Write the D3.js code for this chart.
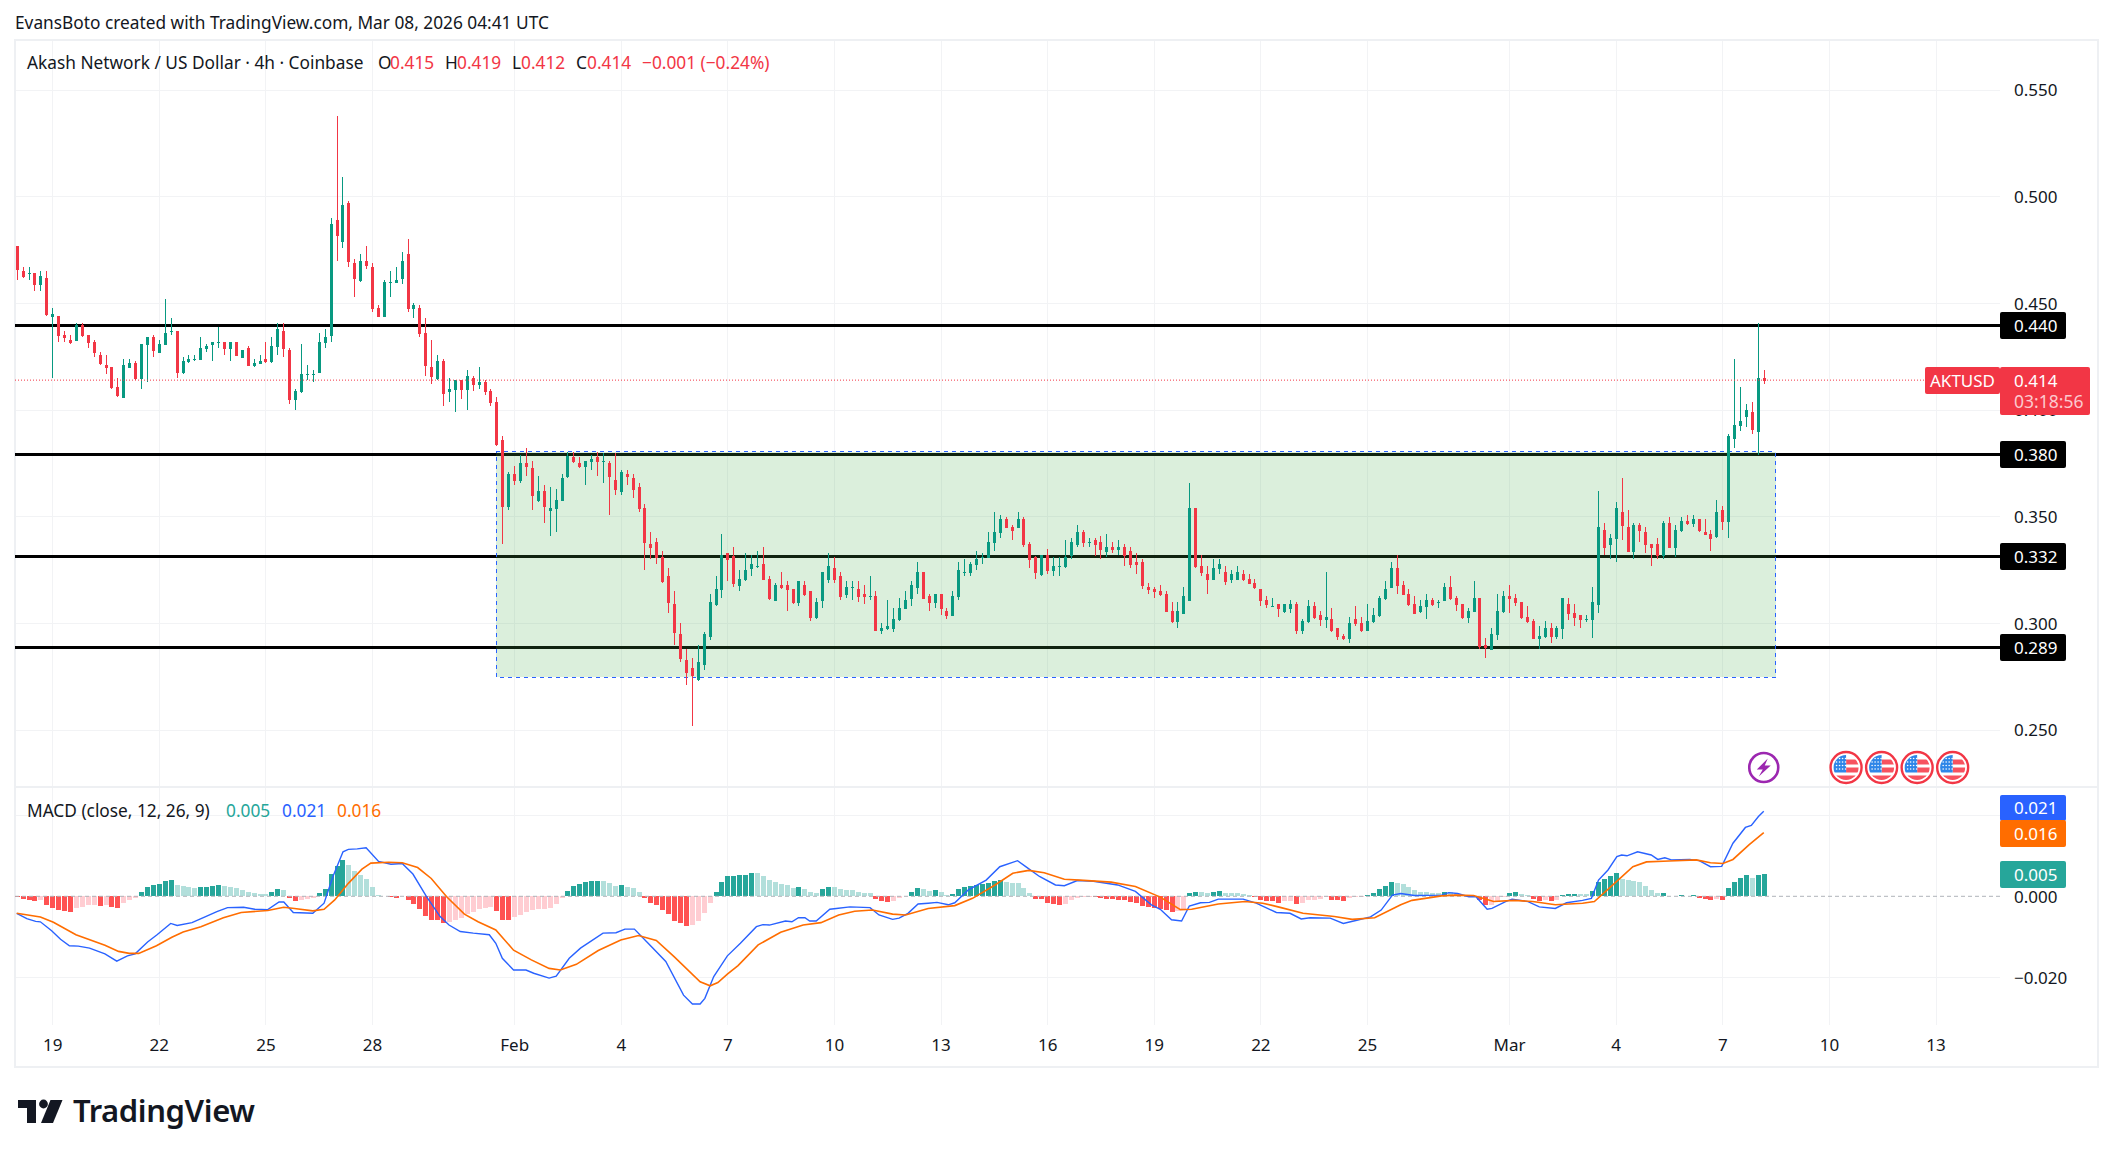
<!DOCTYPE html>
<html>
<head>
<meta charset="utf-8">
<script src="https://cdn.jsdelivr.net/npm/d3@7"></script>
<style>
  html, body { margin: 0; background: #fff; }
  text { font-family: "Noto Sans", sans-serif; fill: #131722; }
</style>
</head>
<body>
<div id="chart"></div>
<script>
// 4h candles, first one is Jan 18 00:00 UTC
const startTime = Date.UTC(2026, 0, 18);
const fourHours = 4 * 3600 * 1000;

const opens = [
  .4769,.4652,.4638,.4642,.4586,.4619,.4436,.4441,.4352,.4328,
  .4324,.4399,.4352,.4319,.4258,.4211,.4202,.4108,.4056,.4197,
  .4221,.4146,.4305,.4342,.4267,.4305,.4366,.4371,.4174,.4225,
  .4235,.4235,.4286,.4305,.4314,.4319,.4286,.4319,.4244,.4291,
  .4206,.4216,.4239,.4225,.4295,.4370,.4281,.4047,.4084,.4164,
  .4164,.4173,.4314,.4347,.4890,.4787,.4970,.4689,.4605,.4698,
  .4670,.4478,.4436,.4595,.4595,.4614,.4731,.4473,.4478,.4361,
  .4201,.4145,.4230,.4084,.4094,.4140,.4094,.4150,.4117,.4131,
  .4089,.4037,.3859,.3545,.3700,.3667,.3751,.3728,.3573,.3620,
  .3526,.3536,.3573,.3686,.3780,.3751,.3733,.3756,.3780,.3756,
  .3751,.3672,.3615,.3700,.3681,.3639,.3541,.3372,.3381,.3311,
  .3222,.3091,.2950,.2828,.2791,.2734,.2805,.2936,.3086,.3156,
  .3330,.3315,.3175,.3203,.3255,.3264,.3278,.3208,.3105,.3180,
  .3180,.3161,.3095,.3180,.3151,.3025,.3105,.3203,.3259,.3222,
  .3133,.3166,.3161,.3137,.3123,.3128,.2964,.2973,.2973,.3016,
  .3067,.3114,.3166,.3241,.3128,.3095,.3137,.3058,.3034,.3123,
  .3236,.3236,.3273,.3306,.3306,.3377,.3423,.3489,.3451,.3447,
  .3489,.3372,.3311,.3226,.3320,.3245,.3264,.3264,.3315,.3367,
  .3428,.3377,.3391,.3381,.3334,.3358,.3344,.3358,.3339,.3287,
  .3287,.3170,.3161,.3151,.3137,.3058,.3006,.3044,.3105,.3541,
  .3269,.3231,.3203,.3255,.3241,.3203,.3203,.3231,.3208,.3189,
  .3161,.3109,.3077,.3091,.3053,.3067,.3091,.2964,.3006,.3081,
  .3039,.3016,.3020,.2978,.2941,.2926,.3020,.3001,.2964,.3006,
  .3034,.3114,.3166,.3259,.3180,.3137,.3091,.3053,.3077,.3109,
  .3095,.3105,.3170,.3119,.3091,.3025,.3053,.3119,.2898,.2875,
  .2945,.3053,.3128,.3119,.3100,.3030,.3011,.2926,.2936,.2978,
  .2936,.2974,.3091,.3049,.3039,.3016,.3016,.3086,.3438,.3367,
  .3395,.3522,.3452,.3334,.3461,.3428,.3372,.3372,.3316,.3470,
  .3353,.3433,.3480,.3466,.3489,.3428,.3419,.3405,.3531,.3475,
  .3864,.3925,.3967,.3991,.3897,.4150
];
const highs = [
  .4769,.4671,.4671,.4642,.4652,.4652,.4478,.4441,.4371,.4352,
  .4408,.4408,.4352,.4328,.4272,.4258,.4202,.4150,.4239,.4239,
  .4230,.4310,.4342,.4352,.4328,.4521,.4431,.4371,.4249,.4258,
  .4258,.4342,.4310,.4319,.4389,.4319,.4319,.4319,.4281,.4300,
  .4239,.4258,.4319,.4342,.4408,.4408,.4290,.4098,.4309,.4211,
  .4187,.4361,.4380,.4900,.5378,.5092,.4980,.4708,.4731,.4769,
  .4689,.4492,.4609,.4651,.4670,.4740,.4801,.4501,.4492,.4431,
  .4328,.4258,.4239,.4150,.4140,.4140,.4187,.4159,.4201,.4140,
  .4098,.4061,.3878,.3709,.3737,.3789,.3822,.3761,.3691,.3648,
  .3639,.3630,.3700,.3803,.3803,.3780,.3761,.3789,.3803,.3798,
  .3761,.3798,.3719,.3719,.3700,.3658,.3559,.3428,.3400,.3339,
  .3259,.3151,.3001,.2880,.2837,.2898,.2959,.3137,.3222,.3419,
  .3330,.3358,.3250,.3330,.3320,.3339,.3358,.3222,.3189,.3241,
  .3198,.3161,.3198,.3198,.3151,.3119,.3241,.3330,.3311,.3241,
  .3198,.3198,.3198,.3180,.3222,.3151,.3001,.3109,.3072,.3119,
  .3151,.3198,.3287,.3241,.3137,.3137,.3137,.3072,.3151,.3287,
  .3301,.3287,.3339,.3330,.3428,.3522,.3508,.3498,.3461,.3522,
  .3498,.3381,.3315,.3320,.3348,.3311,.3311,.3391,.3400,.3461,
  .3437,.3400,.3400,.3409,.3419,.3381,.3391,.3372,.3358,.3330,
  .3301,.3189,.3170,.3180,.3151,.3100,.3100,.3170,.3658,.3541,
  .3320,.3269,.3301,.3301,.3269,.3250,.3269,.3250,.3231,.3208,
  .3161,.3128,.3119,.3091,.3091,.3109,.3100,.3020,.3109,.3100,
  .3058,.3241,.3072,.2978,.2950,.3030,.3081,.3030,.3091,.3072,
  .3128,.3198,.3287,.3320,.3198,.3161,.3128,.3109,.3137,.3119,
  .3109,.3189,.3222,.3128,.3091,.3072,.3198,.3119,.2931,.2978,
  .3137,.3151,.3180,.3137,.3100,.3081,.3020,.2987,.3011,.3001,
  .2987,.3118,.3119,.3091,.3039,.3039,.3171,.3620,.3470,.3419,
  .3569,.3681,.3531,.3470,.3470,.3452,.3372,.3400,.3480,.3498,
  .3461,.3498,.3508,.3508,.3489,.3489,.3438,.3578,.3550,.3888,
  .4239,.4108,.4028,.4038,.4408,.4188
];
const lows = [
  .4610,.4619,.4610,.4558,.4558,.4441,.4150,.4319,.4319,.4310,
  .4324,.4342,.4291,.4249,.4211,.4169,.4099,.4061,.4056,.4197,
  .4141,.4099,.4131,.4249,.4267,.4305,.4352,.4150,.4169,.4221,
  .4230,.4235,.4272,.4230,.4291,.4258,.4230,.4253,.4244,.4206,
  .4202,.4216,.4220,.4220,.4258,.4248,.4028,.4000,.4080,.4140,
  .4131,.4173,.4290,.4319,.4698,.4759,.4670,.4530,.4600,.4661,
  .4459,.4436,.4436,.4530,.4595,.4590,.4459,.4431,.4342,.4159,
  .4122,.4140,.4019,.4037,.3990,.4051,.4000,.4089,.4098,.4070,
  .4019,.3831,.3372,.3531,.3648,.3658,.3691,.3531,.3569,.3470,
  .3409,.3428,.3573,.3681,.3751,.3728,.3648,.3719,.3691,.3658,
  .3508,.3601,.3601,.3648,.3587,.3522,.3250,.3301,.3278,.3189,
  .3048,.2898,.2819,.2711,.2519,.2730,.2781,.2922,.3081,.3119,
  .3198,.3170,.3151,.3198,.3222,.3259,.3203,.3109,.3105,.3161,
  .3058,.3091,.3081,.3128,.3011,.3020,.3072,.3189,.3189,.3109,
  .3119,.3109,.3100,.3091,.3109,.2964,.2950,.2969,.2959,.3011,
  .3067,.3081,.3137,.3114,.3058,.3072,.3039,.3020,.3034,.3109,
  .3222,.3222,.3250,.3278,.3306,.3339,.3400,.3447,.3391,.3447,
  .3358,.3259,.3208,.3222,.3231,.3222,.3222,.3259,.3301,.3358,
  .3358,.3358,.3315,.3301,.3311,.3330,.3320,.3269,.3259,.3231,
  .3161,.3137,.3119,.3128,.3053,.3001,.2978,.3044,.3105,.3259,
  .3222,.3137,.3203,.3231,.3180,.3189,.3203,.3198,.3184,.3161,
  .3081,.3072,.3077,.3030,.3048,.3048,.2950,.2950,.3001,.3020,
  .2987,.2978,.2959,.2922,.2922,.2908,.2987,.2959,.2964,.3001,
  .3030,.3109,.3166,.3137,.3133,.3081,.3044,.3048,.3020,.3081,
  .3072,.3105,.3109,.3058,.3020,.3001,.3053,.2880,.2837,.2875,
  .2922,.3048,.3048,.3081,.3020,.3001,.2926,.2880,.2931,.2908,
  .2926,.2927,.3016,.2988,.2978,.3007,.2932,.3049,.3320,.3302,
  .3288,.3391,.3334,.3302,.3381,.3330,.3269,.3302,.3302,.3353,
  .3311,.3428,.3461,.3452,.3428,.3414,.3339,.3400,.3438,.3400,
  .3822,.3902,.3920,.3888,.3789,.4122
];
const closes = [
  .4658,.4624,.4642,.4586,.4628,.4446,.4450,.4347,.4338,.4314,
  .4399,.4347,.4314,.4267,.4216,.4197,.4103,.4066,.4211,.4221,
  .4146,.4310,.4342,.4277,.4310,.4361,.4371,.4174,.4230,.4239,
  .4239,.4291,.4300,.4319,.4319,.4286,.4319,.4253,.4281,.4206,
  .4221,.4230,.4225,.4300,.4380,.4286,.4047,.4089,.4169,.4169,
  .4169,.4319,.4342,.4872,.4815,.4961,.4694,.4614,.4698,.4675,
  .4473,.4436,.4600,.4600,.4609,.4698,.4473,.4492,.4356,.4206,
  .4155,.4230,.4075,.4098,.4140,.4094,.4159,.4117,.4131,.4084,
  .4033,.3836,.3545,.3700,.3667,.3751,.3733,.3597,.3620,.3545,
  .3541,.3578,.3681,.3784,.3756,.3733,.3761,.3770,.3756,.3761,
  .3686,.3625,.3709,.3686,.3625,.3536,.3377,.3353,.3306,.3194,
  .3095,.2955,.2833,.2767,.2753,.2819,.2950,.3100,.3161,.3320,
  .3297,.3184,.3208,.3250,.3278,.3269,.3203,.3114,.3180,.3166,
  .3156,.3095,.3198,.3133,.3025,.3100,.3241,.3269,.3203,.3123,
  .3170,.3170,.3123,.3123,.3128,.2964,.2978,.2987,.3020,.3072,
  .3109,.3180,.3241,.3114,.3095,.3137,.3067,.3034,.3128,.3250,
  .3241,.3278,.3301,.3311,.3381,.3428,.3489,.3447,.3433,.3489,
  .3367,.3297,.3236,.3320,.3245,.3269,.3269,.3311,.3381,.3428,
  .3377,.3381,.3367,.3344,.3358,.3344,.3358,.3315,.3273,.3273,
  .3175,.3156,.3147,.3133,.3053,.3006,.3058,.3128,.3541,.3264,
  .3236,.3203,.3259,.3278,.3194,.3231,.3241,.3203,.3184,.3166,
  .3105,.3086,.3081,.3067,.3091,.3091,.2964,.3011,.3081,.3025,
  .3016,.3030,.2964,.2936,.2926,.3001,.2997,.2964,.3011,.3039,
  .3119,.3161,.3259,.3175,.3133,.3086,.3044,.3081,.3109,.3086,
  .3100,.3170,.3114,.3086,.3025,.3058,.3119,.2889,.2884,.2950,
  .3058,.3128,.3114,.3095,.3025,.3006,.2926,.2941,.2978,.2936,
  .2978,.3118,.3044,.3025,.3016,.3021,.3100,.3452,.3353,.3400,
  .3541,.3456,.3334,.3461,.3433,.3367,.3353,.3316,.3470,.3353,
  .3438,.3480,.3466,.3489,.3433,.3414,.3395,.3522,.3475,.3878,
  .3930,.3949,.4000,.3906,.4150,.4136
];

const histogram = [
  -.00025,-.00074,-.00099,-.00123,-.00099,-.00222,-.00296,-.00346,-.0037,-.00379,
  -.00296,-.00272,-.00222,-.00214,-.0023,-.00222,-.00272,-.0028,-.00173,-.00099,
  -.00049,.00099,.00222,.00272,.00296,.0037,.00395,.00272,.00247,.00222,
  .00198,.00222,.00239,.00247,.00272,.00247,.00239,.00198,.00148,.00099,
  .00074,.00066,.00049,.00099,.00173,.00165,-.00049,-.00123,-.00099,-.00074,
  -.00049,.00074,.00173,.00543,.00741,.00905,.00782,.00634,.00527,.00428,
  .00222,.00033,.00016,-.00025,-.00033,.00008,-.00099,-.00198,-.00313,-.00494,
  -.00584,-.00593,-.00658,-.00642,-.00593,-.00543,-.00444,-.00395,-.00313,-.00296,
  -.00263,-.00362,-.00584,-.00593,-.0051,-.00469,-.00395,-.00346,-.00313,-.00305,
  -.00296,-.00198,-.00049,.00123,.00247,.00296,.00346,.00379,.00387,.00379,
  .00329,.00263,.00272,.00222,.00198,.00099,-.00049,-.00165,-.00222,-.00329,
  -.00428,-.00601,-.00658,-.00724,-.007,-.00617,-.00403,-.00156,.00099,.00354,
  .00502,.0051,.00518,.00535,.00576,.00568,.0051,.00412,.00346,.00296,
  .00272,.00214,.0023,.00181,.00107,.00082,.00173,.0023,.00222,.00181,
  .00156,.00148,.00099,.00091,.00082,-.00074,-.00115,-.0014,-.00107,-.00049,
  .00016,.00107,.00214,.00181,.0014,.00148,.00099,.00033,.00049,.00173,
  .00222,.00255,.00288,.00305,.00337,.0037,.00395,.00346,.00337,.00329,
  .00206,.00091,-.00066,-.00074,-.00173,-.00198,-.00214,-.00181,-.00099,-.00041,
  -.00025,-.00016,-.00025,-.00049,-.00066,-.00074,-.00082,-.00091,-.00132,-.00173,
  -.0023,-.00272,-.00296,-.00313,-.00346,-.00387,-.00362,-.00346,.00082,.00107,
  .00099,.00091,.00099,.00123,.00091,.00082,.00074,.00049,.00025,-.00025,
  -.00099,-.00107,-.00123,-.00165,-.00123,-.00115,-.00198,-.00173,-.00099,-.00091,
  -.00066,-.00016,-.00091,-.00099,-.00107,-.00049,-.00025,-.00008,.00025,.00074,
  .00173,.00247,.00346,.00329,.00305,.0023,.00156,.00107,.00099,.00091,
  .00074,.00115,.00099,.00066,.00041,.00025,-.00016,-.00099,-.00214,-.00206,
  -.0014,-.00025,.00074,.00099,.00066,.00025,-.00074,-.00115,-.00082,-.00115,
  -.00082,.00041,.00058,.00066,.00058,.00049,.00132,.00362,.00436,.00494,
  .00576,.00436,.00412,.00387,.00362,.00255,.00156,.00074,.00091,.00008,
  .00016,.00025,.00016,.00025,-.00033,-.00058,-.00099,-.00074,-.00082,.00214,
  .00354,.00444,.00527,.00461,.00527,.00551
];

const macdBars = [
  0,1.7,3.2,4,5.9,7.4,8.9,10.4,12.3,14.9,16.9,18.7,20,22.1,23.7,26,27.1,29.6,31.9,33.8,
  35.6,38.3,40.2,42.4,44.3,45.1,46.7,50,51.9,53.4,55.1,56,57.5,59,61.1,63.2,65.1,66.9,69.2,71.5,
  73,74.9,77.1,79.8,80.9,82,83.9,86,87.3,89.9,91.1,93.3,95.2,99,101.2,102.7,104.3,106.5,109.6,112.6,
  114.1,115.4,116.2,117.7,120,122.2,124.9,126,127.1,129.8,130.9,132,133.1,133.9,135,137.3,138.4,140.7,144.1,145.6,
  147.9,149,150.5,152.2,153.9,155.4,157.3,158.4,160.7,163.7,166,169,170.5,172.7,175.4,176.9,179.1,181.8,185.9,188.9,
  191.6,193.1,195,196.7,198,199.9,201.4,202.9,207.1,209.3,212.7,215,216.9,218.4,221.8,224,226.3,228.6,230.4,232.3,
  233.7,236,240.6,241.8,243.3,245.2,246.4,248.3,249.1,251.4,252.5,255.2,257.1,259.8,261.7,264.4,265.9,267.1,268.7,270.2,
  271,271.9,273.7,276,277.1,278.3,279.4,282.5,284.1,286,287.9,289.8,291.9,292.9,294.1,295
];
const macdValues = [
  -.0042,-.0055,-.0062,-.0063,-.0085,-.0106,-.0122,-.0123,-.0128,-.0142,-.0160,-.0147,-.0142,-.0113,-.0095,-.0067,-.0072,-.0065,-.0050,-.0038,
  -.0028,-.0027,-.0032,-.0033,-.0014,-.0014,-.0040,-.0042,-.0017,.0049,.0110,.0116,.0117,.0120,.0086,.0079,.0081,.0055,-.0001,-.0050,
  -.0071,-.0087,-.0091,-.0095,-.0116,-.0153,-.0182,-.0182,-.0190,-.0202,-.0197,-.0153,-.0128,-.0091,-.0090,-.0081,-.0081,-.0114,-.0161,-.0244,
  -.0266,-.0266,-.0252,-.0198,-.0147,-.0116,-.0075,-.0070,-.0071,-.0061,-.0063,-.0053,-.0053,-.0061,-.0061,-.0032,-.0030,-.0026,-.0028,-.0046,
  -.0057,-.0054,-.0042,-.0019,-.0017,-.0015,-.0021,-.0016,.0016,.0040,.0073,.0088,.0072,.0049,.0028,.0026,.0039,.0037,.0028,.0012,
  -.0021,-.0032,-.0058,-.0061,-.0024,-.0016,-.0015,-.0007,-.0007,-.0017,-.0040,-.0042,-.0056,-.0053,-.0054,-.0067,-.0059,-.0051,-.0034,.0003,
  .0007,.0002,.0003,.0009,.0007,-.0001,-.0001,-.0032,-.0030,-.0013,-.0007,-.0013,-.0026,-.0030,-.0016,-.0010,-.0005,.0040,.0065,.0098,
  .0102,.0100,.0110,.0102,.0091,.0095,.0090,.0091,.0088,.0073,.0074,.0131,.0170,.0175,.0197,.0210
];
const signalBars = [
  0,4,6.2,10,14.9,17.2,19,20.6,23.6,26.2,28.1,31.1,34.9,37.9,42.4,45.1,46.9,50,51.9,53.7,
  56,58.3,59.8,62.8,65.1,67.7,70,72.6,75.6,77.9,80.9,83.9,86.9,89.9,91.8,94.5,98.2,102,105,108,
  111,115.4,117.1,118.4,120,121.8,125.2,129,132.8,135.8,138.8,141.5,144.5,147.9,150.1,153.9,158.4,161.4,165.2,168.2,
  170.9,173.5,176.9,179.5,184.8,188.9,193.1,196.5,198.4,202.9,207.4,210.4,213.5,217.2,222.5,225.5,229.3,233.7,235.6,240.6,
  242.9,246,249.4,252.9,256,259.8,264.4,266.4,269.8,272.9,275.2,279,283.6,286,288.1,289.8,292.5,295
];
const signalValues = [
  -.0042,-.0051,-.0064,-.0095,-.0121,-.0136,-.0141,-.0141,-.0122,-.0101,-.0088,-.0075,-.0053,-.0040,-.0035,-.0027,-.0030,-.0036,-.0032,-.0009,
  .0032,.0067,.0082,.0084,.0083,.0071,.0044,-.0001,-.0044,-.0063,-.0083,-.0133,-.0157,-.0178,-.0182,-.0168,-.0134,-.0108,-.0097,-.0109,
  -.0149,-.0211,-.0221,-.0213,-.0192,-.0171,-.0120,-.0089,-.0071,-.0065,-.0046,-.0037,-.0034,-.0044,-.0046,-.0030,-.0023,-.0005,.0028,.0057,
  .0064,.0058,.0042,.0040,.0035,.0024,-.0002,-.0033,-.0032,-.0019,-.0013,-.0017,-.0028,-.0042,-.0050,-.0057,-.0053,-.0021,-.0010,.0001,
  .0003,.0002,-.0013,-.0010,-.0013,-.0021,-.0017,-.0013,.0032,.0073,.0085,.0087,.0090,.0083,.0081,.0091,.0127,.0157
];

const priceTicks = [0.55, 0.5, 0.45, 0.4, 0.35, 0.3, 0.25];
const macdTicks = [0, -0.02];
const macdGrid = [0.02, -0.02];
const levels = [0.44, 0.3796, 0.3316, 0.289];
const dayTicks = ["2026-01-19","2026-01-22","2026-01-25","2026-01-28","2026-02-01","2026-02-04","2026-02-07",
  "2026-02-10","2026-02-13","2026-02-16","2026-02-19","2026-02-22","2026-02-25","2026-03-01","2026-03-04",
  "2026-03-07","2026-03-10","2026-03-13"];
const dayLabels = ["19","22","25","28","Feb","4","7","10","13","16","19","22","25","Mar","4","7","10","13"];
const usEvents = ["2026-03-10T12:00Z","2026-03-11T12:00Z","2026-03-12T12:00Z","2026-03-13T12:00Z"];
const boltEvent = "2026-03-08T04:00Z";
// consolidation box: bars and prices
const boxBars = [81, 297];
const boxPrices = [0.3804, 0.2747];
const lastPrice = 0.414;

const green = "#089981", red = "#f23645";
const width = 2114, height = 1157;
const frameLeft = 15, axisX = 2000, frameRight = 2098, frameTop = 40, paneLine = 787, gridEnd = 1025, frameBottom = 1067;

const svg = d3.select("#chart").append("svg")
  .attr("width", width).attr("height", height)
  .style("display", "block");

const xTime = d3.scaleUtc()
  .domain([startTime, Date.UTC(2026, 2, 13)])
  .range([16.7, 1935.5]);
const barX = i => xTime(startTime + i * fourHours);
const priceY = d3.scaleLinear().domain([0.55, 0.25]).range([90, 730]);
const macdY = d3.scaleLinear().domain([0.02, -0.02]).range([815.3, 977.3]);

const crisp = svg.append("g").attr("shape-rendering", "crispEdges");

// grid
crisp.append("g").selectAll("line").data(dayTicks).enter().append("line")
  .attr("x1", d => Math.round(xTime(new Date(d)))).attr("x2", d => Math.round(xTime(new Date(d))))
  .attr("y1", frameTop).attr("y2", gridEnd)
  .attr("stroke", "#f2f3f5");
crisp.append("g").selectAll("line").data(priceTicks).enter().append("line")
  .attr("x1", frameLeft).attr("x2", axisX)
  .attr("y1", d => priceY(d)).attr("y2", d => priceY(d))
  .attr("stroke", "#f2f3f5");
crisp.append("g").selectAll("line").data(macdGrid).enter().append("line")
  .attr("x1", frameLeft).attr("x2", axisX)
  .attr("y1", d => macdY(d)).attr("y2", d => macdY(d))
  .attr("stroke", "#f2f3f5");

// frame and pane split
crisp.append("rect")
  .attr("x", frameLeft).attr("y", frameTop)
  .attr("width", frameRight - frameLeft).attr("height", frameBottom - frameTop)
  .attr("fill", "none").attr("stroke", "#eef0f3").attr("stroke-width", 2);
crisp.append("line")
  .attr("x1", frameLeft).attr("x2", frameRight)
  .attr("y1", paneLine).attr("y2", paneLine)
  .attr("stroke", "#eef0f3").attr("stroke-width", 2);

// horizontal levels go under the box, that is why they look dark green in it
crisp.append("g").selectAll("line").data(levels).enter().append("line")
  .attr("x1", frameLeft).attr("x2", axisX)
  .attr("y1", d => Math.round(priceY(d)) + 0.5).attr("y2", d => Math.round(priceY(d)) + 0.5)
  .attr("stroke", "#000").attr("stroke-width", 3);

crisp.append("rect")
  .attr("x", barX(boxBars[0])).attr("y", priceY(boxPrices[0]))
  .attr("width", barX(boxBars[1]) - barX(boxBars[0]))
  .attr("height", priceY(boxPrices[1]) - priceY(boxPrices[0]))
  .attr("fill", "rgba(76,175,80,0.2)")
  .attr("stroke", "#2962ff").attr("stroke-dasharray", "4 4");

// last price dotted line
svg.append("line")
  .attr("x1", frameLeft).attr("x2", 1925)
  .attr("y1", priceY(lastPrice)).attr("y2", priceY(lastPrice))
  .attr("stroke", red).attr("stroke-dasharray", "1 2");

// candles
const candles = crisp.append("g").selectAll("g").data(d3.range(opens.length)).enter().append("g")
  .attr("fill", i => closes[i] >= opens[i] ? green : red);
candles.append("rect")
  .attr("x", i => Math.round(barX(i))).attr("width", 1)
  .attr("y", i => priceY(highs[i]))
  .attr("height", i => priceY(lows[i]) - priceY(highs[i]));
candles.append("rect")
  .attr("x", i => Math.round(barX(i)) - 1).attr("width", 3)
  .attr("y", i => priceY(Math.max(opens[i], closes[i])))
  .attr("height", i => Math.max(1, Math.abs(priceY(opens[i]) - priceY(closes[i]))));

// macd pane
svg.append("line")
  .attr("x1", frameLeft).attr("x2", axisX)
  .attr("y1", macdY(0)).attr("y2", macdY(0))
  .attr("stroke", "#b0b3ba").attr("stroke-dasharray", "4 3");

const histColor = i => {
  const now = histogram[i], before = i ? histogram[i - 1] : 0;
  if (now >= 0) return before < now ? "#26a69a" : "#b2dfdb";
  return before < now ? "#ffcdd2" : "#ff5252";
};
crisp.append("g").selectAll("rect").data(d3.range(histogram.length)).enter().append("rect")
  .attr("x", i => Math.round(barX(i)) - 2).attr("width", 5)
  .attr("y", i => Math.min(macdY(0), macdY(histogram[i])))
  .attr("height", i => Math.abs(macdY(histogram[i]) - macdY(0)))
  .attr("fill", histColor);

const macdLine = d3.line().x(d => barX(d[0])).y(d => macdY(d[1]));
svg.append("path")
  .datum(d3.zip(macdBars, macdValues))
  .attr("d", macdLine).attr("fill", "none")
  .attr("stroke", "#2962ff").attr("stroke-width", 1.4);
svg.append("path")
  .datum(d3.zip(signalBars, signalValues))
  .attr("d", macdLine).attr("fill", "none")
  .attr("stroke", "#ff6d00").attr("stroke-width", 1.6);

// axes
const styleAxis = g => {
  g.select(".domain").remove();
  g.selectAll("text").attr("font-size", 17).attr("font-family", "Noto Sans").attr("fill", "#131722");
};
svg.append("g").attr("transform", `translate(2014,0.5)`)
  .call(d3.axisRight(priceY).tickValues(priceTicks).tickSize(0).tickPadding(0).tickFormat(d3.format(".3f")))
  .call(styleAxis);
svg.append("g").attr("transform", `translate(2014,0.5)`)
  .call(d3.axisRight(macdY).tickValues(macdTicks).tickSize(0).tickPadding(0).tickFormat(d3.format(".3f")))
  .call(styleAxis);
svg.append("g").attr("transform", `translate(0,1039)`)
  .call(d3.axisBottom(xTime).tickValues(dayTicks.map(d => new Date(d))).tickSize(0).tickPadding(0)
    .tickFormat((d, i) => dayLabels[i]))
  .call(styleAxis);

// boxes on the right axis
const tag = (x, y, w, h, fill, label, tx) => {
  svg.append("rect").attr("x", x).attr("y", y).attr("width", w).attr("height", h)
    .attr("rx", 2).attr("fill", fill);
  svg.append("text").attr("x", tx).attr("y", y + h / 2).attr("dy", "0.36em")
    .attr("font-size", 17).style("fill", "#fff").text(label);
};
levels.forEach(d => {
  tag(axisX, Math.round(priceY(d)) - 13, 66, 27, "#000", d3.format(".3f")(d), 2014);
});
tag(1925, 367, 75, 27, red, "AKTUSD", 1930);
svg.append("rect").attr("x", axisX).attr("y", 367).attr("width", 90).attr("height", 48)
  .attr("rx", 2).attr("fill", red);
svg.append("text").attr("x", 2014).attr("y", 380.5).attr("dy", "0.36em")
  .attr("font-size", 17).style("fill", "#fff").text("0.414");
svg.append("text").attr("x", 2014).attr("y", 402).attr("dy", "0.36em")
  .attr("font-size", 17.5).style("fill", "#fcc9ce").text("03:18:56");
tag(axisX, 795, 66, 26, "#2962ff", "0.021", 2014);
tag(axisX, 820, 66, 27, "#ff6d00", "0.016", 2014);
tag(axisX, 861, 66, 27, "#26a69a", "0.005", 2014);

// titles
const txt = (x, y, s, color) => svg.append("text")
  .attr("x", x).attr("y", y).attr("dy", "0.36em")
  .attr("font-size", 17.3).style("fill", color || "#131722").text(s);
txt(15, 23, "EvansBoto created with TradingView.com, Mar 08, 2026 04:41 UTC");
txt(27, 63, "Akash Network / US Dollar · 4h · Coinbase");
txt(378, 63, "O"); txt(390, 63, "0.415", red);
txt(445, 63, "H"); txt(457, 63, "0.419", red);
txt(512, 63, "L"); txt(521, 63, "0.412", red);
txt(576, 63, "C"); txt(587, 63, "0.414", red);
txt(642, 63, "−0.001 (−0.24%)", red);
txt(27, 811, "MACD (close, 12, 26, 9)");
txt(226, 811, "0.005", "#26a69a");
txt(282, 811, "0.021", "#2962ff");
txt(337, 811, "0.016", "#ff6d00");

// logo
const logo = svg.append("g").attr("fill", "#131722");
logo.append("path").attr("d", "M18 1100H36V1123H27V1108H18Z");
logo.append("circle").attr("cx", 43.5).attr("cy", 1104).attr("r", 4.4);
logo.append("path").attr("d", "M50.5 1100H62.5L53 1123H41Z");
svg.append("text").attr("x", 73).attr("y", 1122)
  .attr("font-size", 31).attr("font-weight", 600).attr("letter-spacing", -0.4)
  .style("fill", "#131722").text("TradingView");

// event marks above the macd pane
const markY = 767.5;
const defs = svg.append("defs");
const bolt = svg.append("g").attr("transform", `translate(${xTime(new Date(boltEvent))},${markY})`);
bolt.append("circle").attr("r", 14.5).attr("fill", "#fff").attr("stroke", "#9c27b0").attr("stroke-width", 2.6);
bolt.append("path").attr("d", "M4 -9L-7 2H-1L-5 9L7 -2H1Z").attr("fill", "#9c27b0");

usEvents.forEach((d, n) => {
  const g = svg.append("g").attr("transform", `translate(${xTime(new Date(d)) - 0.6},${markY})`);
  defs.append("clipPath").attr("id", "flag" + n).append("circle").attr("r", 12.5);
  g.append("circle").attr("r", 15.5).attr("fill", "#fff").attr("stroke", red).attr("stroke-width", 2.4);
  const f = g.append("g").attr("clip-path", `url(#flag${n})`);
  f.append("rect").attr("x", -13).attr("y", -13).attr("width", 26).attr("height", 26).attr("fill", "#fff");
  f.append("rect").attr("x", 0).attr("y", -8).attr("width", 13).attr("height", 5).attr("fill", "#f7525f");
  f.append("rect").attr("x", 0).attr("y", 0).attr("width", 13).attr("height", 5).attr("fill", "#f7525f");
  f.append("rect").attr("x", -13).attr("y", 8).attr("width", 26).attr("height", 5).attr("fill", "#f7525f");
  f.append("rect").attr("x", -13).attr("y", -13).attr("width", 13).attr("height", 18).attr("fill", "#2e86e8");
  d3.range(-10, 0, 3).forEach(a => d3.range(-9, 5, 3.5).forEach(b => {
    f.append("circle").attr("cx", a + 0.5).attr("cy", b).attr("r", 0.8).attr("fill", "#fff");
  }));
});
</script>
</body>
</html>
